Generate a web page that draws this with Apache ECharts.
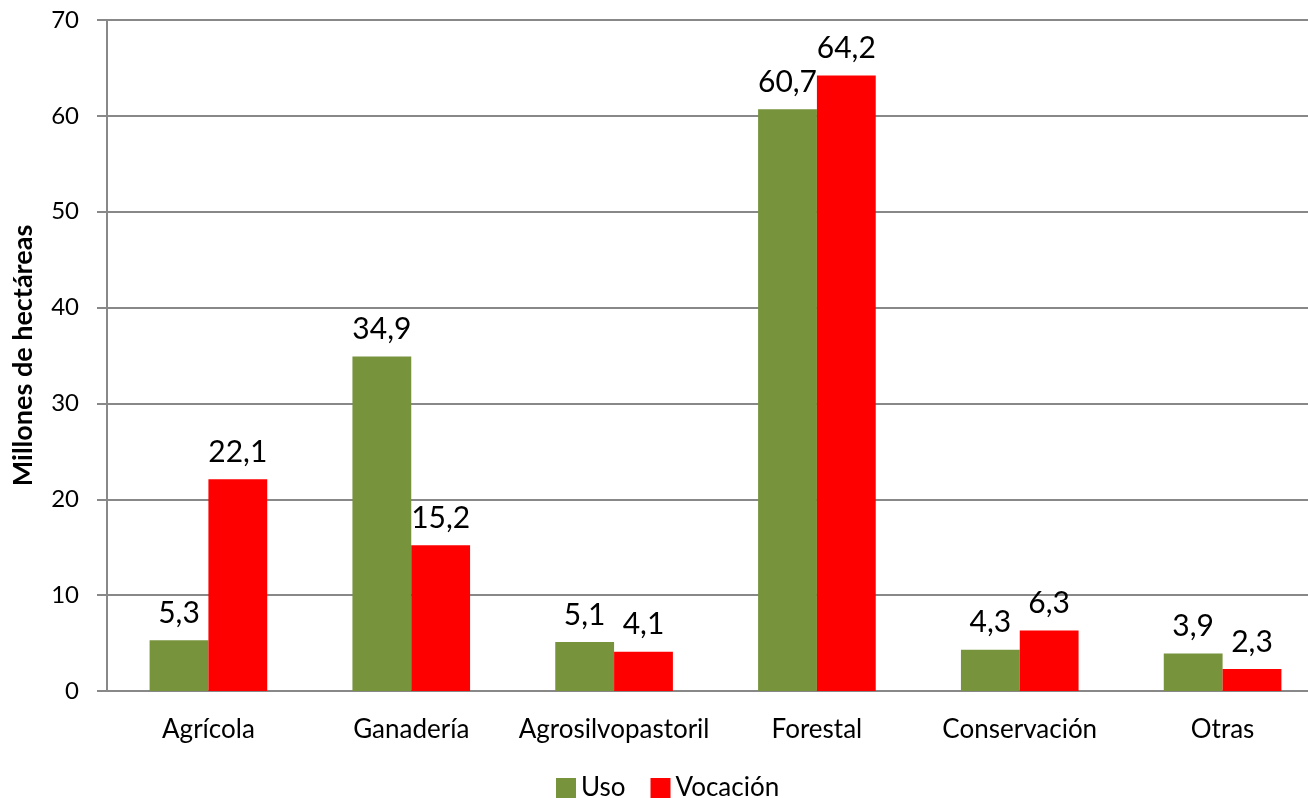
<!DOCTYPE html>
<html>
<head>
<meta charset="utf-8">
<script src="https://cdn.jsdelivr.net/npm/echarts@6/dist/echarts.min.js"></script>
<style>html,body{margin:0;padding:0;background:#fff;}#c{width:1308px;height:798px;}</style>
</head>
<body>
<div id="c"></div>
<script>
const categories = ['Agrícola', 'Ganadería', 'Agrosilvopastoril', 'Forestal', 'Conservación', 'Otras'];
const uso = [5.3, 34.9, 5.1, 60.7, 4.3, 3.9];
const vocacion = [22.1, 15.2, 4.1, 64.2, 6.3, 2.3];
const yTicks = { min: 0, max: 70, interval: 10 };
const FONT = 'Lato';
const fmt = p => String(p.value.toFixed(1)).replace('.', ',');
const chart = echarts.init(document.getElementById('c'));
chart.setOption({
  animation: false,
  textStyle: { fontFamily: FONT },
  grid: { left: 107, right: -16, top: 20, bottom: 107, containLabel: false, outerBoundsMode: 'none' },
  legend: {
    top: 770, left: 551, itemWidth: 20, itemHeight: 20, itemGap: 25,
    icon: 'rect',
    textStyle: { fontSize: 26, color: '#000', fontFamily: FONT },
    data: ['Uso', 'Vocación']
  },
  xAxis: {
    type: 'category', data: categories,
    axisLine: { lineStyle: { color: '#888', width: 2 } },
    axisTick: { show: false },
    axisLabel: { fontSize: 26, color: '#000', margin: 26, interval: 0, fontFamily: FONT }
  },
  yAxis: {
    type: 'value', min: yTicks.min, max: yTicks.max, interval: yTicks.interval,
    name: 'Millones de hectáreas', nameLocation: 'middle', nameGap: 70,
    nameTextStyle: { fontSize: 27, fontWeight: 'bold', color: '#000', fontFamily: FONT },
    axisLine: { show: true, lineStyle: { color: '#888', width: 2 } },
    axisTick: { show: true, length: 10, inside: false, lineStyle: { color: '#888', width: 2 } },
    axisLabel: { fontSize: 24, color: '#000', margin: 28, fontFamily: FONT },
    splitLine: { lineStyle: { color: '#888', width: 2 } }
  },
  series: [
    {
      name: 'Uso', type: 'bar', data: uso, barGap: '0%', barCategoryGap: '42%',
      itemStyle: { color: '#77933C' },
      label: { show: true, position: 'top', distance: 12, fontSize: 30, color: '#000', formatter: fmt, fontFamily: FONT }
    },
    {
      name: 'Vocación', type: 'bar', data: vocacion, barGap: '0%', barCategoryGap: '42%',
      itemStyle: { color: '#FF0000' },
      label: { show: true, position: 'top', distance: 12, fontSize: 30, color: '#000', formatter: fmt, fontFamily: FONT }
    }
  ]
});
</script>
</body>
</html>
